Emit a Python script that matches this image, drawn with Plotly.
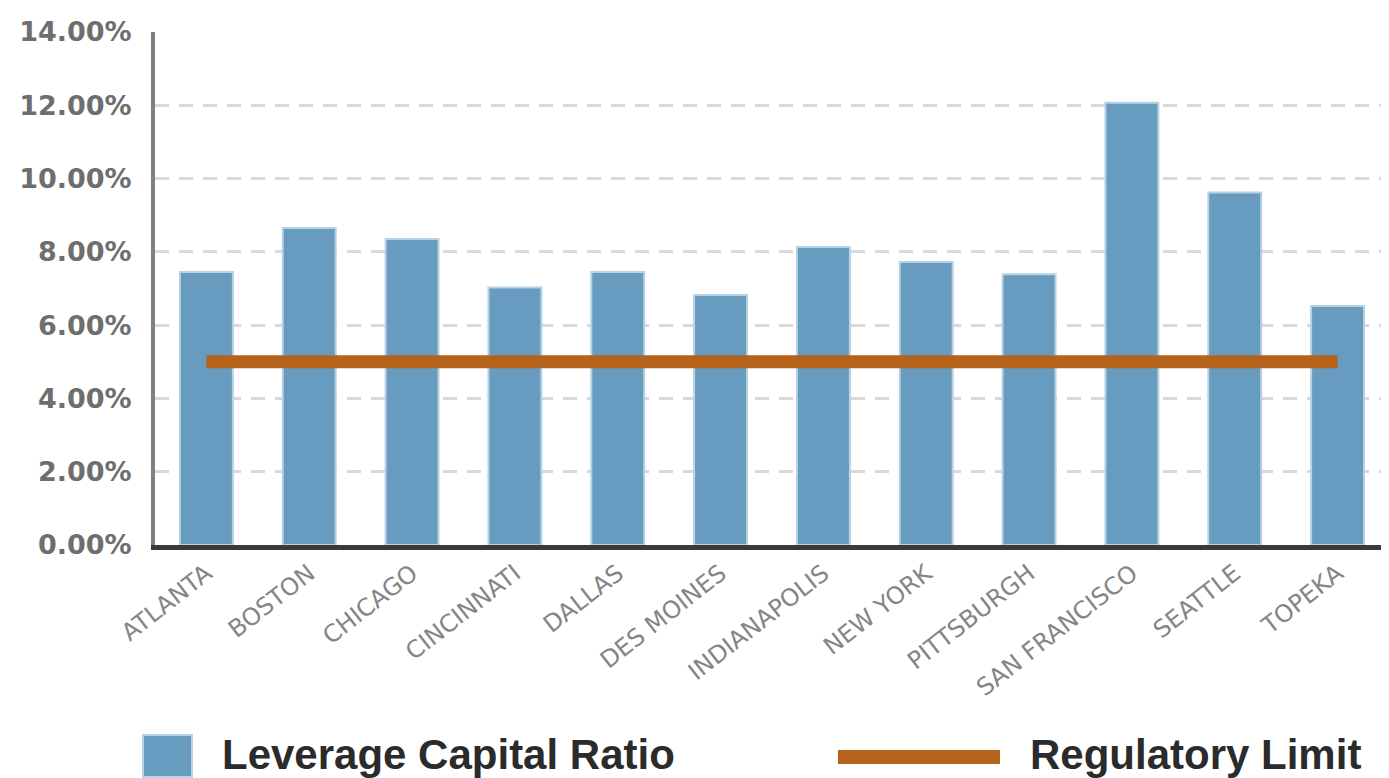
import plotly.graph_objects as go

# ---- data ----
cities = ["ATLANTA", "BOSTON", "CHICAGO", "CINCINNATI", "DALLAS", "DES MOINES",
          "INDIANAPOLIS", "NEW YORK", "PITTSBURGH", "SAN FRANCISCO", "SEATTLE", "TOPEKA"]
leverage_ratio = [7.45, 8.65, 8.35, 7.03, 7.45, 6.82, 8.13, 7.72, 7.39, 12.07, 9.62, 6.52]
regulatory_limit = [5.0] * len(cities)
y_tick_values = [0, 2, 4, 6, 8, 10, 12, 14]
y_tick_labels = ["0.00%", "2.00%", "4.00%", "6.00%", "8.00%", "10.00%", "12.00%", "14.00%"]
legend_labels = ["Leverage Capital Ratio", "Regulatory Limit"]

BAR_COLOR = "#679cc0"
LINE_COLOR = "#b5621b"

OFF = 8  # page body offset
SW, SH = 1389, 778
W, H = SW - OFF, SH - OFF
# plot area in screen pixels
PL, PR, PT, PB = 155, 1389, 32, 545
ML, MR, MT, MB = PL - OFF, SW - PR, PT - OFF, SH - PB
PW, PH = PR - PL, PB - PT


def px_x(px):
    return (px - PL) / PW


def px_y(py):
    return (PB - py) / PH


fig = go.Figure()
fig.add_trace(go.Bar(
    x=cities, y=leverage_ratio, name=legend_labels[0],
    marker=dict(color=BAR_COLOR, line=dict(color="#b9d2e3", width=2)),
    showlegend=False,
))
fig.add_trace(go.Scatter(
    x=cities, y=regulatory_limit, name=legend_labels[1], mode="lines",
    line=dict(color=LINE_COLOR, width=13), showlegend=False,
))

# legend drawn as decoration below the axis labels
shapes = [
    dict(type="rect", xref="paper", yref="paper",
         x0=px_x(143), x1=px_x(192), y0=px_y(777), y1=px_y(735),
         fillcolor=BAR_COLOR, line=dict(color="#b9d2e3", width=2)),
    dict(type="line", xref="paper", yref="paper",
         x0=px_x(838), x1=px_x(1000), y0=px_y(757), y1=px_y(757),
         line=dict(color=LINE_COLOR, width=14)),
]
annotations = [
    dict(text="<b>" + legend_labels[0] + "</b>", xref="paper", yref="paper",
         x=px_x(220), y=px_y(754), xanchor="left", yanchor="middle", showarrow=False,
         font=dict(family="Liberation Sans", size=42, color="#2b2b2b")),
    dict(text="<b>" + legend_labels[1] + "</b>", xref="paper", yref="paper",
         x=px_x(1028), y=px_y(754), xanchor="left", yanchor="middle", showarrow=False,
         font=dict(family="Liberation Sans", size=42, color="#2b2b2b")),
]

fig.update_layout(
    width=W, height=H,
    margin=dict(l=ML, r=MR, t=MT, b=MB, pad=0),
    paper_bgcolor="white", plot_bgcolor="white",
    bargap=0.485,
    shapes=shapes, annotations=annotations,
    xaxis=dict(
        type="category", range=[-0.5, len(cities) - 0.5],
        showline=True, linecolor="#3a3a3a", linewidth=5,
        showgrid=False, ticks="", tickangle=-38,
        tickfont=dict(family="DejaVu Sans", size=24, color="#858585"),
    ),
    yaxis=dict(
        range=[0, 14], tickvals=y_tick_values, ticktext=y_tick_labels,
        showline=True, linecolor="#808080", linewidth=4,
        showgrid=True, gridcolor="#d9d9d9", gridwidth=3, griddash="14px,10px",
        zeroline=False, ticks="", ticklabelstandoff=14,
        tickfont=dict(family="DejaVu Sans", size=27, color="#6e6e6e", weight="bold"),
    ),
)

fig.write_html("out.html")
